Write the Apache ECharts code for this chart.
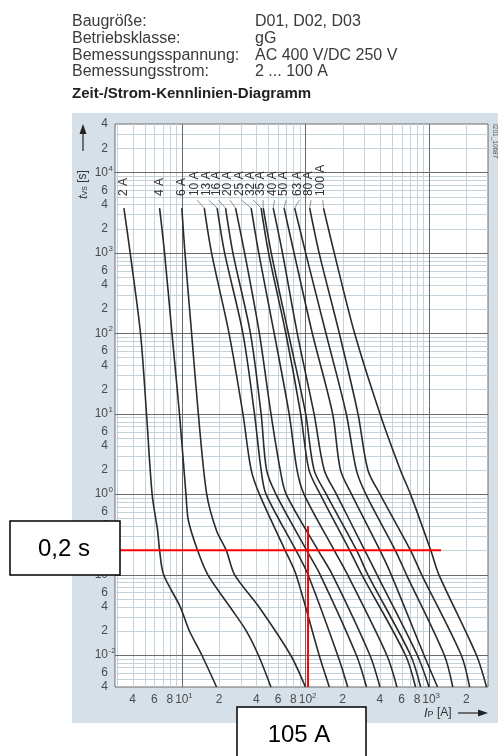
<!DOCTYPE html>
<html>
<head>
<meta charset="utf-8">
<script src="https://cdn.jsdelivr.net/npm/echarts@6/dist/echarts.min.js"></script>
<style>
  html, body { margin: 0; padding: 0; background: #fff; }
  #chart { width: 500px; height: 756px; }
</style>
</head>
<body>
<div id="chart"></div>
<script>
const X_MIN = 2.88;
const X_MAX = 3000;
const Y_MIN = 0.004;
const Y_MAX = 40000;

// fuse ratings, curves as [current A, time s]
const fuseNames = ["2 A", "4 A", "6 A", "10 A", "13 A", "16 A", "20 A", "25 A", "32 A", "35 A", "40 A", "50 A", "63 A", "80 A", "100 A"];
const labelAt = [3.4, 6.6, 10.0, 12.8, 15.9, 19.1, 23.6, 29.3, 36.4, 43.8, 54.2, 67.2, 85.9, 107, 133];

const c2A = [[3.40, 3600], [3.82, 1000], [4.63, 100], [5.18, 10], [5.75, 1], [6.37, 0.35], [6.61, 0.2], [7.12, 0.1], [9.69, 0.04], [11.5, 0.02], [14.5, 0.01], [19.1, 0.004]];
const c4A = [[6.61, 3600], [7.25, 1000], [8.32, 100], [9.57, 10], [10.8, 1], [11.3, 0.47], [13.4, 0.2], [16.2, 0.1], [24.4, 0.04], [33.2, 0.02], [41.6, 0.01], [52.6, 0.004]];
const c6A = [[10.0, 3600], [10.6, 1000], [12.0, 100], [13.6, 10], [15.9, 1], [19.1, 0.35], [22.9, 0.2], [26.7, 0.1], [42.4, 0.039], [75.8, 0.01], [100, 0.004]];

const tLevels = [3600, 1000, 100, 10, 2, 1, 0.2, 0.1, 0.01, 0.004];
const i10A = [15.2, 17.4, 24.1, 31.2, 36.4, 42.4, 68.5, 83.9, 129, 156];
const i13A = [19.3, 22.2, 31.2, 38.7, 43.8, 48.0, 83.9, 104.8, 182, 220];
const i16A = [22.6, 25.9, 35.9, 43.8, 48.5, 57.7, 102.3, 131.5, 258, 312];
const i20A = [27.2, 32.2, 42.4, 52.6, 62.5, 69.8, 126.6, 165, 332, 401];
const i25A = [36.4, 41.9, 55.9, 73.8, 85.5, 97.3, 171, 219, 455, 550];
const i32A = [43.8, 50.3, 69.4, 91.5, 106.8, 131.5, 228, 285.6, 644, 778];
const i35A = [45.6, 52.9, 72.8, 100.4, 117.4, 147.3, 259.8, 319.8, 708, 855];
const i40A = [54.9, 65.2, 85.9, 117.4, 141.9, 178, 302, 379, 803, 1000];
const i50A = [67.2, 80.9, 113.7, 166, 192, 236, 401, 494, 910, 1172];
const i63A = [81.9, 100.4, 146.5, 214, 258, 308, 533, 656, 1328, 1556];
const i80A = [108.3, 129, 188, 266, 320, 401, 708, 871, 1821, 2130];
const i100A = [140, 171, 250, 401, 586, 708, 1033, 1201, 2417, 2921];

const markCurrent = 105;
const markTime = 0.2;
const markLineEndCurrent = 1250;
const markLineTopTime = 0.4;

const xTickLabels = [4, 6, 8, 10, 20, 40, 60, 80, 100, 200, 400, 600, 800, 1000, 2000];
const yTickLabels = [40000, 20000, 10000, 6000, 4000, 2000, 1000, 600, 400, 200, 100, 60, 40, 20, 10, 6, 4, 2, 1, 0.6, 0.4, 0.2, 0.1, 0.06, 0.04, 0.02, 0.01, 0.006, 0.004];
const xDecades = [10, 100, 1000];
const yDecades = [0.01, 0.1, 1, 10, 100, 1000, 10000];
const minorSteps = [2, 3, 4, 5, 6, 7, 8, 9];

const FONT = "'Liberation Sans', Arial, sans-serif";
const MAJOR_COLOR = "#6a6a6a";
const MINOR_COLOR = "#c4d2dc";
const CURVE_COLOR = "#2b2b2b";
const LABEL_COLOR = "#4c4c4c";

const pairCurve = (currents) => currents.map((v, i) => [v, tLevels[i]]);
const curves = [c2A, c4A, c6A, pairCurve(i10A), pairCurve(i13A), pairCurve(i16A), pairCurve(i20A), pairCurve(i25A), pairCurve(i32A), pairCurve(i35A), pairCurve(i40A), pairCurve(i50A), pairCurve(i63A), pairCurve(i80A), pairCurve(i100A)];

// minor grid values between the decades
function minorValues(decadeStarts, lo, hi) {
  const out = [];
  decadeStarts.forEach((d) => {
    minorSteps.forEach((m) => {
      const v = d * m;
      if (v > lo * 1.001 && v < hi * 0.999) out.push(v);
    });
  });
  return out;
}
const xMinor = minorValues([1, 10, 100, 1000], X_MIN, X_MAX);
const yMinor = minorValues([0.001, 0.01, 0.1, 1, 10, 100, 1000, 10000], Y_MIN, Y_MAX);

const crisp = (v) => Math.round(v) + 0.5;

function vGrid(color) {
  return function (params, api) {
    const a = api.coord([api.value(0), Y_MAX]);
    const b = api.coord([api.value(0), Y_MIN]);
    const x = crisp(a[0]);
    return { type: "line", shape: { x1: x, y1: a[1], x2: x, y2: b[1] }, style: { stroke: color, lineWidth: 1 } };
  };
}

function hGrid(color) {
  return function (params, api) {
    const a = api.coord([X_MIN, api.value(1)]);
    const b = api.coord([X_MAX, api.value(1)]);
    const y = crisp(a[1]);
    return { type: "line", shape: { x1: a[0], y1: y, x2: b[0], y2: y }, style: { stroke: color, lineWidth: 1 } };
  };
}

function splitTick(v) {
  const lg = Math.log10(v);
  const e = Math.round(lg);
  if (Math.abs(lg - e) < 1e-6) return { main: "10", sup: String(e) };
  return { main: String(Math.round(v / Math.pow(10, Math.floor(lg)))), sup: "" };
}

function xLabel(params, api) {
  const p = api.coord([api.value(0), Y_MIN]);
  const t = splitTick(api.value(0));
  const kids = [{
    type: "text", x: p[0], y: p[1] + 13,
    style: { text: t.main, align: "center", verticalAlign: "middle", font: "12px " + FONT, fill: LABEL_COLOR }
  }];
  if (t.sup) {
    kids.push({
      type: "text", x: p[0] + 6.5, y: p[1] + 9,
      style: { text: t.sup, align: "left", verticalAlign: "middle", font: "8px " + FONT, fill: LABEL_COLOR }
    });
  }
  return { type: "group", children: kids };
}

function yLabel(params, api) {
  const p = api.coord([X_MIN, api.value(1)]);
  const t = splitTick(api.value(1));
  const kids = [{
    type: "text", x: p[0] - 7, y: p[1],
    style: { text: t.main, align: "right", verticalAlign: "middle", font: "12px " + FONT, fill: LABEL_COLOR }
  }];
  if (t.sup) {
    kids.push({
      type: "text", x: p[0] - 6.5, y: p[1] - 4,
      style: { text: t.sup, align: "left", verticalAlign: "middle", font: "8px " + FONT, fill: LABEL_COLOR }
    });
  }
  return { type: "group", children: kids };
}

function fuseLabel(params, api) {
  const i = params.dataIndex;
  const top = curves[i][0];
  const anchor = api.coord([labelAt[i], top[1]]);
  const curveTop = api.coord(top);
  const kids = [{
    type: "text", x: anchor[0], y: anchor[1] - 12, rotation: Math.PI / 2,
    style: { text: fuseNames[i], align: "left", verticalAlign: "middle", font: "12px " + FONT, fill: "#333" }
  }];
  if (i >= 3) {
    kids.push({
      type: "line",
      shape: { x1: anchor[0] + 2, y1: anchor[1] - 8, x2: curveTop[0], y2: curveTop[1] },
      style: { stroke: "#777", lineWidth: 0.8 }
    });
  }
  return { type: "group", children: kids };
}

const curveSeries = curves.map((data, i) => ({
  name: fuseNames[i],
  type: "line",
  data,
  smooth: 0.3,
  showSymbol: false,
  silent: true,
  z: 4,
  lineStyle: { color: CURVE_COLOR, width: 1.6 }
}));

const headerLeft = ["Baugröße:", "Betriebsklasse:", "Bemessungsspannung:", "Bemessungsstrom:"];
const headerRight = ["D01, D02, D03", "gG", "AC 400 V/DC 250 V", "2 ... 100 A"];
const headerGraphics = [];
headerLeft.forEach((txt, i) => {
  const y = 21.3 + i * 16.9;
  headerGraphics.push({ type: "text", x: 72, y, style: { text: txt, font: "16px " + FONT, fill: "#3a3a3a", align: "left", verticalAlign: "middle" } });
  headerGraphics.push({ type: "text", x: 255, y, style: { text: headerRight[i], font: "16px " + FONT, fill: "#3a3a3a", align: "left", verticalAlign: "middle" } });
});

const chart = echarts.init(document.getElementById("chart"));

chart.setOption({
  animation: false,
  backgroundColor: "#fff",
  grid: {
    left: 115, right: 12, top: 124, bottom: 69,
    show: true, backgroundColor: "#fff", borderColor: MAJOR_COLOR, borderWidth: 1
  },
  xAxis: {
    type: "log", logBase: 10, min: X_MIN, max: X_MAX,
    axisLine: { show: false }, axisTick: { show: false }, axisLabel: { show: false }, splitLine: { show: false }
  },
  yAxis: {
    type: "log", logBase: 10, min: Y_MIN, max: Y_MAX,
    axisLine: { show: false }, axisTick: { show: false }, axisLabel: { show: false }, splitLine: { show: false }
  },
  graphic: {
    elements: [
      { type: "rect", z: -10, shape: { x: 72, y: 113, width: 426, height: 610 }, style: { fill: "#d6e0e8" } },
      ...headerGraphics,
      { type: "text", x: 72, y: 94, style: { text: "Zeit-/Strom-Kennlinien-Diagramm", font: "bold 15px " + FONT, fill: "#222", align: "left", verticalAlign: "middle" } },
      {
        type: "text", x: 83, y: 199, rotation: Math.PI / 2,
        style: {
          text: "{t|t}{s|VS} {n|[s]}", align: "left", verticalAlign: "middle",
          rich: {
            t: { font: "italic 13px " + FONT, fill: "#333" },
            s: { font: "7px " + FONT, fill: "#333", padding: [5, 0, 0, 0] },
            n: { font: "12px " + FONT, fill: "#333" }
          }
        }
      },
      { type: "line", shape: { x1: 83, y1: 151, x2: 83, y2: 132 }, style: { stroke: "#222", lineWidth: 1.2 } },
      { type: "polygon", shape: { points: [[83, 124], [79.5, 134], [86.5, 134]] }, style: { fill: "#222" } },
      {
        type: "text", x: 424, y: 713,
        style: {
          text: "{i|I}{s|P} {n|[A]}", align: "left", verticalAlign: "middle",
          rich: {
            i: { font: "italic 13px " + FONT, fill: "#333" },
            s: { font: "9px " + FONT, fill: "#333", padding: [4, 0, 0, 0] },
            n: { font: "12px " + FONT, fill: "#333" }
          }
        }
      },
      { type: "line", shape: { x1: 458, y1: 713, x2: 479, y2: 713 }, style: { stroke: "#222", lineWidth: 1.2 } },
      { type: "polygon", shape: { points: [[488, 713], [478, 709.5], [478, 716.5]] }, style: { fill: "#222" } },
      { type: "text", x: 495, y: 124, rotation: -Math.PI / 2, style: { text: "I201_10687", font: "6.5px " + FONT, fill: "#555", align: "left", verticalAlign: "middle" } },
      { type: "rect", z: 100, shape: { x: 10, y: 521, width: 110, height: 54 }, style: { fill: "#fff", stroke: "#000", lineWidth: 1.5 } },
      { type: "text", z: 101, x: 64, y: 549, style: { text: "0,2 s", font: "24px " + FONT, fill: "#000", align: "center", verticalAlign: "middle" } },
      { type: "rect", z: 100, shape: { x: 237, y: 707, width: 129, height: 60 }, style: { fill: "#fff", stroke: "#000", lineWidth: 1.5 } },
      { type: "text", z: 101, x: 299, y: 735, style: { text: "105 A", font: "24px " + FONT, fill: "#000", align: "center", verticalAlign: "middle" } }
    ]
  },
  series: [
    { type: "custom", z: 1, silent: true, data: xMinor.map((v) => [v, Y_MIN]), renderItem: vGrid(MINOR_COLOR) },
    { type: "custom", z: 1, silent: true, data: yMinor.map((v) => [X_MIN, v]), renderItem: hGrid(MINOR_COLOR) },
    { type: "custom", z: 2, silent: true, data: xDecades.map((v) => [v, Y_MIN]), renderItem: vGrid(MAJOR_COLOR) },
    { type: "custom", z: 2, silent: true, data: yDecades.map((v) => [X_MIN, v]), renderItem: hGrid(MAJOR_COLOR) },
    { type: "custom", z: 3, silent: true, data: xTickLabels.map((v) => [v, Y_MIN]), renderItem: xLabel },
    { type: "custom", z: 3, silent: true, data: yTickLabels.map((v) => [X_MIN, v]), renderItem: yLabel },
    { type: "custom", z: 3, silent: true, data: curves.map((c) => c[0]), renderItem: fuseLabel },
    ...curveSeries,
    {
      type: "line", silent: true, showSymbol: false, z: 6,
      data: [[X_MIN, markTime], [markLineEndCurrent, markTime]],
      lineStyle: { color: "#ff0000", width: 2 }
    },
    {
      type: "line", silent: true, showSymbol: false, z: 6,
      data: [[markCurrent, markLineTopTime], [markCurrent, Y_MIN]],
      lineStyle: { color: "#ff0000", width: 2 }
    }
  ]
});
</script>
</body>
</html>
